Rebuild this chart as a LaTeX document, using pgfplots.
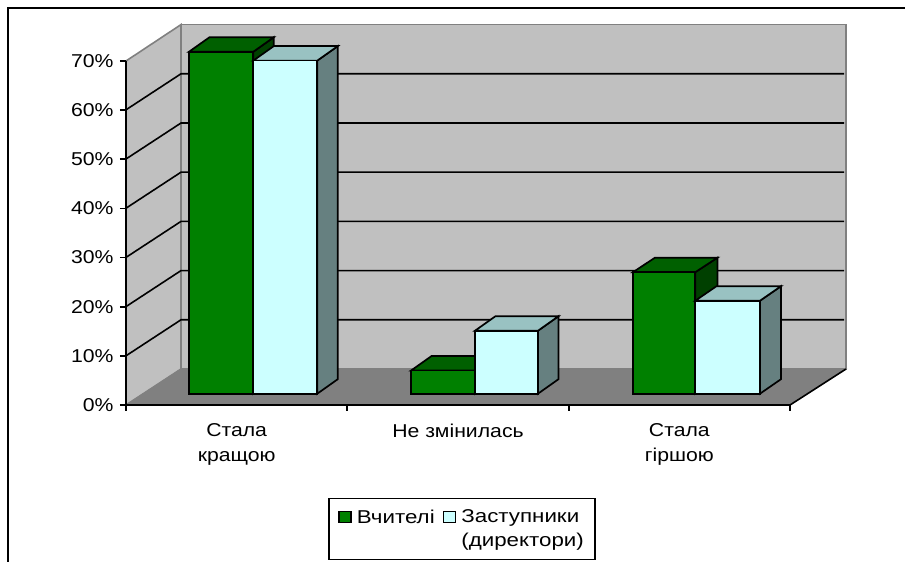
\documentclass[border=0pt]{standalone}
\usepackage{fontspec}
\setmainfont[FakeStretch=1.14]{Liberation Sans}
\newfontfamily\legfont[FakeStretch=1.2]{Liberation Sans}
\usepackage{pgfplots}
\pgfplotsset{compat=1.18}
\definecolor{wall}{RGB}{192,192,192}
\definecolor{floorc}{RGB}{128,128,128}
\definecolor{gf}{RGB}{0,128,0}
\definecolor{gt}{RGB}{0,96,0}
\definecolor{gs}{RGB}{0,64,0}
\definecolor{cf}{RGB}{204,255,255}
\definecolor{ct}{RGB}{153,194,194}
\definecolor{cs}{RGB}{102,128,128}
\newcommand{\chartfont}{\fontsize{18.6}{25}\selectfont}
\begin{document}
\begin{tikzpicture}
\useasboundingbox (0pt,0pt) rectangle (905pt,562pt);
% back walls and floor: x in pixels, y in percent on the back plane
\begin{axis}[at={(0pt,0pt)},anchor=south west,scale only axis,width=905pt,height=562pt,
  xmin=0,xmax=905,ymin=-39.23,ymax=75,hide axis,clip=false,no markers]
\addplot[draw=floorc,line width=1.6pt,fill=wall] coordinates {(126,-7.32)(126,62.6)(181,70)(181,0)} -- cycle;
\addplot[draw=floorc,line width=1.6pt,fill=wall] coordinates {(181,0)(181,70)(846,70)(846,0)} -- cycle;
\addplot[draw=floorc,line width=0.8pt,fill=floorc] coordinates {(126,-7.32)(790,-7.32)(846,0)(181,0)} -- cycle;
\addplot[black,line width=1.6pt] coordinates {(790,-7.32)(846,0)};
\foreach \v/\w in {10/2.68,20/12.68,30/22.68,40/32.68,50/42.68,60/52.68}{
  \edef\tmp{\noexpand\addplot[black,line width=1.6pt] coordinates {(126,\w)(181,\v)(844,\v)};}
  \tmp
}
\addplot[black,line width=2.2pt] coordinates {(8,-39.23)(8,73.37)(905,73.37)};
\end{axis}
% front axis with ticks and labels
\begin{axis}[at={(126pt,157pt)},anchor=south west,scale only axis,width=664pt,height=344pt,
  xmin=0,xmax=3,ymin=0,ymax=70,
  axis x line*=bottom,axis y line*=left,axis line style={black,line width=1.7pt,-},
  xtick={0,1,2,3},xticklabels={},
  extra x ticks={0.5,1.5,2.5},extra x tick labels={{Стала\\кращою},{Не змінилась},{Стала\\гіршою}},
  extra x tick style={major tick length=0pt,
    tick label style={align=center,font=\chartfont,yshift=-15pt}},
  ytick={0,10,20,30,40,50,60,70},
  yticklabels={0\%,10\%,20\%,30\%,40\%,50\%,60\%,70\%},
  tick align=outside,major tick length=6pt,
  tick style={black,line width=1.7pt},
  y tick label style={font=\chartfont,xshift=-3pt},
]
\end{axis}
% bars: x in pixels, y in percent from the bars' base
\begin{axis}[at={(0pt,0pt)},anchor=south west,scale only axis,width=905pt,height=562pt,
  xmin=0,xmax=905,ymin=-34.21,ymax=80.02,hide axis,clip=false,no markers,
  legend columns=2,legend cell align=left,
  legend style={at={(0.5105,0.0587)},anchor=center,draw=black,line width=1.7pt,fill=white,
    font=\chartfont\legfont,inner xsep=9pt,inner ysep=9pt,row sep=5pt,
    /tikz/column 1/.style={column sep=3pt},
    /tikz/column 2/.style={column sep=6pt},
    /tikz/column 3/.style={column sep=3pt}},
  line join=miter]
% group 1
\addplot[forget plot,draw=black,line width=1.7pt,fill=gs] coordinates {(253.3,0)(273.8,2.95)(273.8,72.45)(253.3,69.5)} -- cycle;
\addplot[forget plot,draw=black,line width=1.7pt,fill=gt] coordinates {(189,69.5)(253.3,69.5)(273.8,72.45)(209.5,72.45)} -- cycle;
\addplot[forget plot,draw=black,line width=1.7pt,fill=gf] coordinates {(189,0)(253.3,0)(253.3,69.5)(189,69.5)} -- cycle;
\addplot[forget plot,draw=black,line width=1.7pt,fill=cs] coordinates {(317.3,0)(337.8,2.95)(337.8,70.65)(317.3,67.7)} -- cycle;
\addplot[forget plot,draw=black,line width=1.7pt,fill=ct] coordinates {(253.3,67.7)(317.3,67.7)(337.8,70.65)(273.8,70.65)} -- cycle;
\addplot[forget plot,draw=black,line width=1.7pt,fill=cf] coordinates {(253.3,0)(317.3,0)(317.3,67.7)(253.3,67.7)} -- cycle;
% group 2
\addplot[forget plot,draw=black,line width=1.7pt,fill=gs] coordinates {(475,0)(495.5,2.95)(495.5,7.65)(475,4.7)} -- cycle;
\addplot[forget plot,draw=black,line width=1.7pt,fill=gt] coordinates {(411,4.7)(475,4.7)(495.5,7.65)(431.5,7.65)} -- cycle;
\addplot[forget plot,draw=black,line width=1.7pt,fill=gf] coordinates {(411,0)(475,0)(475,4.7)(411,4.7)} -- cycle;
\addplot[forget plot,draw=black,line width=1.7pt,fill=cs] coordinates {(538,0)(558.5,2.95)(558.5,15.75)(538,12.8)} -- cycle;
\addplot[forget plot,draw=black,line width=1.7pt,fill=ct] coordinates {(475,12.8)(538,12.8)(558.5,15.75)(495.5,15.75)} -- cycle;
\addplot[forget plot,draw=black,line width=1.7pt,fill=cf] coordinates {(475,0)(538,0)(538,12.8)(475,12.8)} -- cycle;
% group 3
\addplot[forget plot,draw=black,line width=1.7pt,fill=gs] coordinates {(695.3,0)(717.5,2.95)(717.5,27.65)(695.3,24.7)} -- cycle;
\addplot[forget plot,draw=black,line width=1.7pt,fill=gt] coordinates {(633,24.7)(695.3,24.7)(717.5,27.65)(655,27.65)} -- cycle;
\addplot[forget plot,draw=black,line width=1.7pt,fill=gf] coordinates {(633,0)(695.3,0)(695.3,24.7)(633,24.7)} -- cycle;
\addplot[forget plot,draw=black,line width=1.7pt,fill=cs] coordinates {(760,0)(781,2.95)(781,21.85)(760,18.9)} -- cycle;
\addplot[forget plot,draw=black,line width=1.7pt,fill=ct] coordinates {(695.3,18.9)(760,18.9)(781,21.85)(716.5,21.85)} -- cycle;
\addplot[forget plot,draw=black,line width=1.7pt,fill=cf] coordinates {(695.3,0)(760,0)(760,18.9)(695.3,18.9)} -- cycle;
% legend
\addlegendimage{legend image code/.code={\draw[black,line width=1.7pt,fill=gf] (0pt,-5.5pt) rectangle (12pt,5.5pt);}}
\addlegendentry{Вчителі}
\addlegendimage{legend image code/.code={\draw[black,line width=1.7pt,fill=cf] (0pt,-5.5pt) rectangle (12pt,5.5pt);}}
\addlegendentry{Заступники}
\addlegendimage{legend image code/.code={}}
\addlegendentry{}
\addlegendimage{legend image code/.code={}}
\addlegendentry{(директори)}
\end{axis}
\end{tikzpicture}
\end{document}
